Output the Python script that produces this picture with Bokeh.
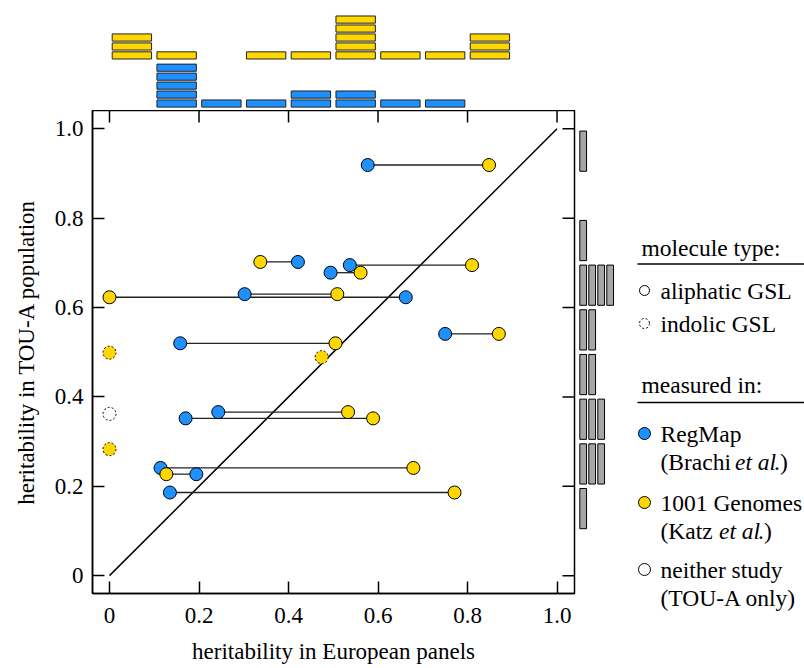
import numpy as np
from bokeh.plotting import figure
from bokeh.layouts import row, column
from bokeh.models import Range1d, FixedTicker
from bokeh.core.properties import value
from bokeh.embed import file_html
from bokeh.resources import INLINE

# ---------------- data (one entry per trait) ----------------
trait_y   = [0.919, 0.702, 0.678, 0.695, 0.623, 0.630, 0.541, 0.520,
             0.499, 0.489, 0.362, 0.283, 0.366, 0.352, 0.241, 0.227, 0.186]
regmap_x  = [0.577, 0.421, 0.494, 0.537, 0.662, 0.302, 0.750, 0.158,
             None, None, None, None, 0.243, 0.170, 0.114, 0.194, 0.135]
g1001_x   = [0.848, 0.337, 0.561, 0.810, 0.000, 0.509, 0.870, 0.505,
             0.000, 0.474, None, 0.000, 0.533, 0.589, 0.679, 0.127, 0.771]
tou_only_x = [None, None, None, None, None, None, None, None,
              None, None, 0.000, None, None, None, None, None, None]
indolic   = [False, False, False, False, False, False, False, False,
             True, True, True, True, False, False, False, False, False]

tick_values = [0, 0.2, 0.4, 0.6, 0.8, 1.0]
tick_labels = ["0", "0.2", "0.4", "0.6", "0.8", "1.0"]

x_label = "heritability in European panels"
y_label = "heritability in TOU-A population"

heading_labels = ["molecule type:", "measured in:"]
type_labels = ["aliphatic GSL", "indolic GSL"]
study_labels = [("RegMap", "(Brachi ", "et al", ".)"),
                ("1001 Genomes", "(Katz ", "et al", ".)"),
                ("neither study", "(TOU-A only)", "", "")]

BLUE = "#1E90FF"
YELLOW = "#FFD700"
GREY = "#A6A6A6"
FONT = "Liberation Serif"
FS = "23px"
LFS = "23.5px"
BIN = 0.1

# ---------------- geometry ----------------
LEFT = 92
FRAME_W = 482
FRAME_H = 483
TOP_H = 110
BOTTOM = 44
RIGHT_B = 2
TOTAL_H = 668
MAIN_W = LEFT + FRAME_W + RIGHT_B
MAIN_H = FRAME_H + BOTTOM
LABEL_H = TOTAL_H - TOP_H - MAIN_H
TICK = 12

xr = Range1d(-0.038, 1.039)
yr = Range1d(-0.040, 1.041)

# ---------------- main plot ----------------
p = figure(width=MAIN_W, height=MAIN_H, x_range=xr, y_range=yr,
           output_backend="svg", toolbar_location=None,
           min_border_left=LEFT, min_border_right=RIGHT_B,
           min_border_top=0, min_border_bottom=BOTTOM)
p.grid.visible = False
p.outline_line_color = "black"
p.outline_line_width = 1.5
p.background_fill_color = "white"
p.border_fill_color = "white"

overrides = {v: l for v, l in zip(tick_values, tick_labels)}
for ax in [p.xaxis[0], p.yaxis[0]]:
    ax.ticker = FixedTicker(ticks=tick_values)
    ax.major_label_overrides = overrides
    ax.minor_tick_line_color = None
    ax.major_tick_in = TICK
    ax.major_tick_out = 0
    ax.major_tick_line_width = 1.5
    ax.axis_line_width = 1.5
    ax.major_label_text_font = FONT
    ax.major_label_text_font_size = FS
    ax.major_label_text_color = "black"
    ax.axis_label_text_font = FONT
    ax.axis_label_text_font_size = FS
    ax.axis_label_text_font_style = "normal"
    ax.axis_label_text_color = "black"
    ax.major_label_standoff = 9
p.yaxis[0].axis_label = y_label
p.xaxis[0].major_label_standoff = 14
p.yaxis[0].axis_label_standoff = 13

# inward ticks on the top and right sides of the box
n = len(tick_values)
p.ray(x=tick_values, y=[yr.end] * n, length=TICK, length_units="screen",
      angle=-np.pi / 2, line_color="black", line_width=1.5)
p.ray(x=[xr.end] * n, y=tick_values, length=TICK, length_units="screen",
      angle=np.pi, line_color="black", line_width=1.5)

# diagonal
p.line(x=[tick_values[0], tick_values[-1]], y=[tick_values[0], tick_values[-1]],
       line_color="black", line_width=1.5)

# connecting segments
x0s, x1s, ys = [], [], []
for rx, gx, y in zip(regmap_x, g1001_x, trait_y):
    if rx is not None and gx is not None:
        x0s.append(rx); x1s.append(gx); ys.append(y)
p.segment(x0=x0s, y0=ys, x1=x1s, y1=ys, line_color="#222222", line_width=1.3)


def pts(xs, dashed):
    out_x, out_y = [], []
    for x, y, d in zip(xs, trait_y, indolic):
        if x is not None and d == dashed:
            out_x.append(x); out_y.append(y)
    return out_x, out_y

MS = 13
for xs, fill in [(regmap_x, BLUE), (g1001_x, YELLOW), (tou_only_x, "white")]:
    for dashed in [False, True]:
        px, py = pts(xs, dashed)
        if px:
            p.scatter(x=px, y=py, size=MS, fill_color=fill, line_color="black",
                      line_width=1, line_dash="2 2" if dashed else "solid")

# ---------------- x-axis title strip (below the main plot) ----------------
xl = figure(width=MAIN_W, height=LABEL_H, x_range=xr, y_range=Range1d(LABEL_H, 0),
            output_backend="svg", toolbar_location=None,
            min_border_left=LEFT, min_border_right=RIGHT_B, min_border_top=0,
            min_border_bottom=0)
xl.axis.visible = False
xl.grid.visible = False
xl.outline_line_color = None
xl.text(x=[(xr.start + xr.end) / 2], y=[14], text=[x_label],
        text_font=value(FONT), text_font_size=value(FS), text_color="black",
        text_align="center", text_baseline="middle")

# ---------------- top marginal histogram ----------------
def bin_index(v):
    return int(np.floor(np.round(v / BIN, 6)))

def counts(xs):
    c = {}
    for v in xs:
        if v is not None:
            b = bin_index(v)
            c[b] = c.get(b, 0) + 1
    return c

top = figure(width=MAIN_W, height=TOP_H, x_range=xr, y_range=Range1d(-0.278, 12.0),
             output_backend="svg", toolbar_location=None,
             min_border_left=LEFT, min_border_right=RIGHT_B, min_border_top=0,
             min_border_bottom=0)
top.axis.visible = False
top.grid.visible = False
top.outline_line_color = None

blue_c = counts(regmap_x)
yel_c = counts(g1001_x)
yel_base = max(blue_c.values()) + 0.37
for cdict, base, fill in [(blue_c, 0.0, BLUE), (yel_c, yel_base, YELLOW)]:
    L, R, B, T = [], [], [], []
    for b, c in cdict.items():
        for k in range(c):
            L.append(b * BIN + 0.006); R.append((b + 1) * BIN - 0.006)
            B.append(base + k + 0.1); T.append(base + k + 0.9)
    top.quad(left=L, right=R, bottom=B, top=T, fill_color=fill,
             line_color="#222222", line_width=1)

# ---------------- right marginal histogram ----------------
# full-height frame; its y range is extended so it maps exactly like the main plot
RW = 44
upp = (yr.end - yr.start) / FRAME_H
BELOW = TOTAL_H - TOP_H - FRAME_H
rt_yr = Range1d(yr.start - BELOW * upp, yr.end + TOP_H * upp)
rt = figure(width=RW, height=TOTAL_H, y_range=rt_yr,
            x_range=Range1d(-0.267, -0.267 + RW / 9.0),
            output_backend="svg", toolbar_location=None, min_border=0)
rt.axis.visible = False
rt.grid.visible = False
rt.outline_line_color = None
yc = counts(trait_y)
L, R, B, T = [], [], [], []
for b, c in yc.items():
    for k in range(c):
        L.append(k + 0.1); R.append(k + 0.85)
        B.append(b * BIN + 0.005); T.append((b + 1) * BIN - 0.005)
rt.quad(left=L, right=R, bottom=B, top=T, fill_color=GREY, line_color="black", line_width=1)

# ---------------- legend panel ----------------
LW = 184
X0 = MAIN_W + RW
lg = figure(width=LW, height=TOTAL_H, x_range=Range1d(X0, X0 + LW),
            y_range=Range1d(TOTAL_H, 0), output_backend="svg",
            toolbar_location=None, min_border=0)
lg.axis.visible = False
lg.grid.visible = False
lg.outline_line_color = None

HX = 641      # heading x
CX = 644      # circle x
TX = 660      # item text x
txt = dict(text_font=value(FONT), text_font_size=value(LFS), text_color="black",
           text_baseline="middle", text_align="left")

heading_y = [247, 384]
rule_y = [263.5, 402]
lg.text(x=[HX] * 2, y=heading_y, text=heading_labels, **txt)
lg.segment(x0=[637] * 2, x1=[X0 + LW] * 2, y0=rule_y, y1=rule_y, line_color="black", line_width=1.5)

type_y = [290, 323]
lg.text(x=[TX] * 2, y=type_y, text=type_labels, **txt)
lg.scatter(x=[CX], y=[type_y[0]], size=10, fill_color="white", line_color="black", line_width=1)
lg.scatter(x=[CX], y=[type_y[1]], size=10, fill_color="white", line_color="black",
           line_width=1, line_dash="2 2")

study_y = [433, 502, 569]
sub_dy = 28.5
study_fill = [BLUE, YELLOW, "white"]
sub_w = {"(Brachi ": 74.5, "(Katz ": 58.5}
for (main_l, a, it, b), yy, fill in zip(study_labels, study_y, study_fill):
    lg.scatter(x=[CX], y=[yy], size=12, fill_color=fill, line_color="black", line_width=1)
    lg.text(x=[TX], y=[yy], text=[main_l], **txt)
    lg.text(x=[TX], y=[yy + sub_dy], text=[a], **txt)
    if it:
        xi = TX + sub_w[a]
        lg.text(x=[xi], y=[yy + sub_dy], text=[it], text_font_style="italic",
                **txt)
        lg.text(x=[xi + 39], y=[yy + sub_dy], text=[b], **txt)

layout = row(column(top, p, xl), rt, lg)
open("out.html", "w").write(file_html(layout, INLINE))
